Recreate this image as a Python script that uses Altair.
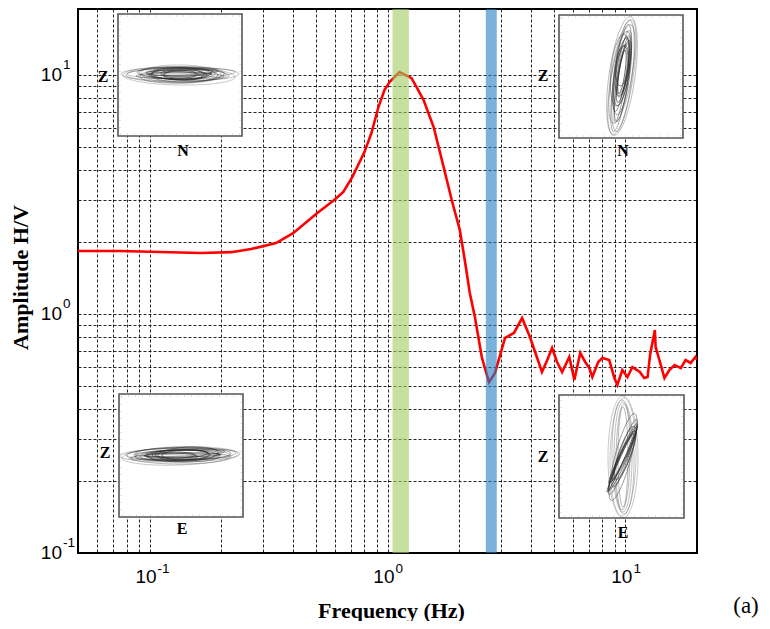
import altair as alt
import pandas as pd

# ---------------- data ----------------
freq = [0.050, 0.075, 0.111, 0.164, 0.220, 0.267, 0.340, 0.401, 0.507, 0.597,
        0.652, 0.711, 0.800, 0.856, 0.916, 0.971, 1.02, 1.124, 1.262, 1.325,
        1.418, 1.563, 1.722, 1.862, 2.013, 2.113, 2.218, 2.33, 2.49, 2.67,
        2.83, 3.12, 3.40, 3.68, 3.97, 4.46, 4.69, 4.92, 5.16, 5.42,
        5.81, 6.10, 6.46, 6.78, 7.05, 7.26, 7.69, 8.0, 8.55, 8.99,
        9.25, 9.71, 10.2, 10.7, 11.5, 12.0, 12.4, 12.7, 13.3, 13.4,
        13.9, 14.6, 15.3, 16.1, 17.1, 17.9, 18.8, 19.7, 20.0]
amp = [1.835, 1.835, 1.818, 1.800, 1.815, 1.871, 1.982, 2.18, 2.65, 3.00,
       3.24, 3.74, 4.76, 5.72, 7.35, 8.65, 9.35, 10.3, 9.71, 8.91,
       7.86, 6.06, 4.12, 3.00, 2.25, 1.68, 1.224, 0.971, 0.661, 0.519,
       0.567, 0.794, 0.833, 0.962, 0.801, 0.572, 0.64, 0.721, 0.63, 0.572,
       0.661, 0.530, 0.687, 0.63, 0.594, 0.545, 0.63, 0.655, 0.642, 0.540,
       0.505, 0.583, 0.545, 0.600, 0.572, 0.540, 0.545, 0.674, 0.857, 0.728,
       0.642, 0.540, 0.583, 0.612, 0.594, 0.642, 0.624, 0.661, 0.645]

band_lo = [1.05, 2.59]
band_hi = [1.23, 2.88]
band_color = ["#a0cb61", "#217fc5"]

x_grid = [0.06, 0.07, 0.08, 0.09, 0.1, 0.2, 0.3, 0.4, 0.5, 0.6, 0.7, 0.8, 0.9,
          1, 2, 3, 4, 5, 6, 7, 8, 9, 10, 20]
y_grid = [0.2, 0.3, 0.4, 0.5, 0.6, 0.7, 0.8, 0.9, 1, 2, 3, 4, 5, 6, 7, 8, 9, 10]
decades = [0.1, 1, 10]
decade_exp = ["-1", "0", "1"]

inset_vert = ["Z", "Z", "Z", "Z"]
inset_horiz = ["N", "N", "E", "E"]

# particle-motion traces: (semi-major, semi-minor, angle, dx, dy, opacity)
pm_tl = [(59, 7, 0, 0, 0, .35), (56, 9, 1, -1, 2, .3), (54, 5, 359, 1, -1, .35),
         (50, 7, 0, -4, 1, .4), (46, 6, 2, 3, 0, .45), (42, 8, 358, 2, 1, .45),
         (38, 6, 1, -3, -1, .55), (34, 7, 0, 4, 1, .6), (30, 5, 359, 1, 0, .65),
         (26, 6, 2, -2, 0, .7), (22, 5, 0, 5, 1, .75), (18, 4, 1, -1, 0, .8),
         (44, 3, 0, 0, 2, .5), (36, 3, 358, 2, -2, .6), (28, 4, 3, -6, 1, .6),
         (24, 3, 357, 8, -1, .7), (40, 9, 1, 1, 0, .3), (32, 2, 0, 0, 0, .8)]
pm_tr = [(60, 13, 278, 0, 0, .35), (58, 11, 279, 0, 1, .35), (56, 9, 277, 1, 0, .4),
         (54, 7, 278, -1, 2, .45), (50, 10, 280, 0, -2, .4), (46, 6, 278, 1, 0, .5),
         (42, 8, 277, 0, -3, .55), (38, 5, 279, -1, -2, .6), (34, 7, 278, 0, -4, .6),
         (30, 4, 280, 1, -3, .7), (26, 6, 277, 0, -5, .7), (22, 3, 278, 0, -4, .8),
         (36, 9, 276, -2, -6, .5), (28, 5, 281, 2, -8, .7), (44, 4, 279, 0, 3, .5),
         (20, 6, 275, 0, -10, .7)]
pm_bl = [(60, 7, 359, 0, 0, .35), (58, 9, 358, 0, 1, .3), (55, 6, 359, 1, -1, .4),
         (52, 8, 0, -1, 1, .4), (48, 6, 358, 3, 0, .5), (44, 7, 359, -2, -1, .5),
         (40, 5, 358, 0, 0, .6), (36, 6, 0, 4, 1, .6), (32, 5, 359, -3, 0, .7),
         (28, 4, 358, 0, -1, .75), (24, 5, 359, 6, 0, .8), (20, 3, 0, -5, 0, .8),
         (50, 3, 359, 0, 2, .5), (45, 3, 358, 0, -2, .5), (30, 7, 357, 8, -1, .6),
         (26, 3, 1, -8, 1, .7), (38, 2, 359, 2, 0, .8)]
pm_br = [(61, 15, 270, 0, 0, .3), (59, 13, 271, 0, 0, .3), (57, 11, 269, 0, 0, .35),
         (55, 9, 270, 0, 0, .35), (53, 7, 271, 0, 0, .4), (50, 5, 270, 0, 0, .4),
         (40, 5, 290, 0, 0, .6), (36, 4, 293, 0, 0, .7), (32, 3, 296, 0, -2, .75),
         (30, 5, 292, 1, 2, .65), (26, 3, 295, 0, 0, .8), (45, 8, 285, 0, 0, .5),
         (34, 2, 294, -2, 4, .8), (28, 6, 289, 2, -4, .6)]

# ---------------- layout (pixels, plot-relative) ----------------
W, H = 619, 544
inset_box = [(40, 164, 5, 127), (481, 605, 6, 129), (41, 165, 385, 508), (481, 606, 386, 509)]
inset_center = [(102, 65), (544, 67), (102, 446), (545, 448)]
inset_zpos = [(25, 68), (465, 67), (27, 444), (465, 448)]
inset_hpos = [(105, 142), (545, 142), (104, 520), (545, 524)]

xs = alt.Scale(type="log", domain=[0.05, 20], nice=False)
ys = alt.Scale(type="log", domain=[0.1, 18.9], nice=False)

x_axis = alt.Axis(
    values=x_grid, labels=False, ticks=False, domain=False, grid=True,
    gridDash=[3, 2], gridColor="#000", gridWidth=1, gridOpacity=0.85,
    title="Frequency (Hz)", titleFont="Liberation Serif", titleFontSize=22,
    titleFontWeight="bold", titleColor="#000", titleX=313, titleY=57,
    titleAlign="center", titleBaseline="middle")
y_axis = alt.Axis(
    values=y_grid, labels=False, ticks=False, domain=False, grid=True,
    gridDash=[3, 2], gridColor="#000", gridWidth=1, gridOpacity=0.85,
    title="Amplitude H/V", titleFont="Liberation Serif", titleFontSize=22,
    titleFontWeight="bold", titleColor="#000", titleX=-58, titleY=268,
    titleAlign="center", titleBaseline="middle", titleAngle=270)

curve = pd.DataFrame({"freq": freq, "amp": amp})
bands = pd.DataFrame({"lo": band_lo, "hi": band_hi, "col": band_color})
labs = pd.DataFrame({"val": decades, "base": ["10"] * 3, "exp": decade_exp})

line = alt.Chart(curve).mark_line(color="#ff0000", strokeWidth=2.6, clip=True).encode(
    x=alt.X("freq:Q", scale=xs, axis=x_axis),
    y=alt.Y("amp:Q", scale=ys, axis=y_axis),
)

band = alt.Chart(bands).mark_rect(opacity=0.6).encode(
    x=alt.X("lo:Q", scale=xs, axis=x_axis), x2="hi:Q",
    y=alt.value(0), y2=alt.value(H),
    color=alt.Color("col:N", scale=None),
)

xlab10 = alt.Chart(labs).mark_text(align="right", baseline="alphabetic", dx=7,
                                    font="Liberation Sans", fontSize=19, color="#000").encode(
    x=alt.X("val:Q", scale=xs, axis=x_axis), y=alt.value(574), text="base:N")
xlabexp = alt.Chart(labs).mark_text(align="left", baseline="alphabetic", dx=8,
                                     font="Liberation Sans", fontSize=13.5, color="#000").encode(
    x=alt.X("val:Q", scale=xs, axis=x_axis), y=alt.value(564), text="exp:N")
ylab10 = alt.Chart(labs).mark_text(align="right", baseline="alphabetic", dy=6,
                                    font="Liberation Sans", fontSize=19, color="#000").encode(
    y=alt.Y("val:Q", scale=ys, axis=y_axis), x=alt.value(-16), text="base:N")
ylabexp = alt.Chart(labs).mark_text(align="left", baseline="alphabetic", dy=-6.5,
                                     font="Liberation Sans", fontSize=13.5, color="#000").encode(
    y=alt.Y("val:Q", scale=ys, axis=y_axis), x=alt.value(-15), text="exp:N")

# insets
box_df = pd.DataFrame([{"x0": b[0], "x1": b[1], "y0": b[2], "y1": b[3]} for b in inset_box])
boxes = alt.Chart(box_df).mark_rect(fill="white", stroke="#555", strokeWidth=1.6).encode(
    x=alt.X("x0:Q", scale=None), x2="x1:Q",
    y=alt.Y("y0:Q", scale=None), y2="y1:Q")
inner_df = pd.DataFrame([{"x0": b[0] + 2, "x1": b[1] - 2, "y0": b[2] + 2, "y1": b[3] - 2}
                         for b in inset_box])
inner = alt.Chart(inner_df).mark_rect(fill="white", stroke="#c8c8c8", strokeWidth=1,
                                      strokeDash=[1, 6]).encode(
    x=alt.X("x0:Q", scale=None), x2="x1:Q",
    y=alt.Y("y0:Q", scale=None), y2="y1:Q")

rows = []
for (cx, cy), traces in zip(inset_center, [pm_tl, pm_tr, pm_bl, pm_br]):
    for a, b, ang, dx, dy, op in traces:
        k = b / a
        shp = f"M -1 0 A 1 {k:.3f} 0 1 1 1 0 A 1 {k:.3f} 0 1 1 -1 0 Z"
        rows.append({"cx": cx + dx, "cy": cy + dy, "shp": shp,
                     "sz": (2 * a) ** 2, "ang": ang, "op": op})
pm_df = pd.DataFrame(rows)
pm = alt.Chart(pm_df).mark_point(filled=False, color="#222", strokeWidth=0.8).encode(
    x=alt.X("cx:Q", scale=None),
    y=alt.Y("cy:Q", scale=None),
    shape=alt.Shape("shp:N", scale=None, legend=None),
    size=alt.Size("sz:Q", scale=None, legend=None),
    angle=alt.Angle("ang:Q", scale=None, legend=None),
    opacity=alt.Opacity("op:Q", scale=None, legend=None),
)

lbl_rows = []
for (zx, zy), (hx, hy), zt, ht in zip(inset_zpos, inset_hpos, inset_vert, inset_horiz):
    lbl_rows.append({"px": zx, "py": zy, "t": zt})
    lbl_rows.append({"px": hx, "py": hy, "t": ht})
lbl_df = pd.DataFrame(lbl_rows)
inset_lbl = alt.Chart(lbl_df).mark_text(
    font="Liberation Serif", fontWeight="bold", fontSize=16, color="#000",
    align="center", baseline="middle").encode(
    x=alt.X("px:Q", scale=None), y=alt.Y("py:Q", scale=None), text="t:N")
panel_df = pd.DataFrame({"px": [668], "py": [597], "t": ["(a)"]})
panel_lbl = alt.Chart(panel_df).mark_text(
    font="Liberation Serif", fontSize=23, color="#000",
    align="center", baseline="middle").encode(
    x=alt.X("px:Q", scale=None), y=alt.Y("py:Q", scale=None), text="t:N")

chart = alt.layer(line, band, xlab10, xlabexp, ylab10, ylabexp, boxes, inner, pm,
                  inset_lbl, panel_lbl).properties(
    width=W, height=H,
    autosize=alt.AutoSizeParams(type="none"),
    padding={"left": 70, "top": 1, "right": 64, "bottom": 68},
    background="white",
).configure_view(stroke="#000", strokeWidth=2)

chart.save("out.html", embed_options={"renderer": "svg", "actions": False})
